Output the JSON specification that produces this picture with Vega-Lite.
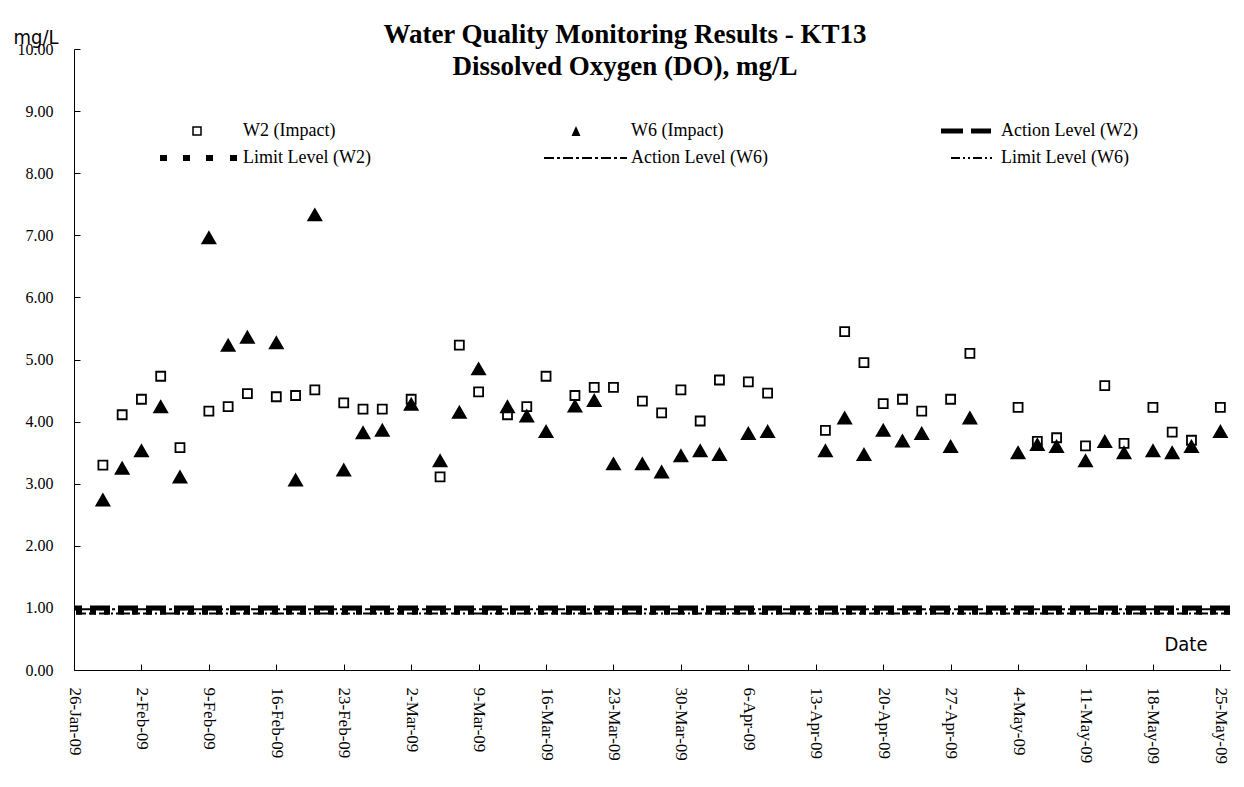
{
  "$schema": "https://vega.github.io/schema/vega-lite/v6.json",
  "width": 1156,
  "height": 621,
  "autosize": {"type": "none"},
  "padding": {"left": 74, "top": 49, "right": 14, "bottom": 117},
  "background": "white",
  "title": {
    "text": ["Water Quality Monitoring Results - KT13", "Dissolved Oxygen (DO), mg/L"],
    "font": "Liberation Serif",
    "fontSize": 27,
    "fontWeight": "bold",
    "color": "black",
    "lineHeight": 32,
    "anchor": "middle",
    "frame": "group",
    "dx": -27,
    "offset": -54
  },
  "config": {
    "view": {"stroke": null},
    "axis": {
      "grid": false,
      "domainColor": "black",
      "tickColor": "black",
      "labelColor": "black",
      "titleColor": "black",
      "labelFont": "Liberation Serif",
      "labelFontSize": 16
    },
    "legend": {
      "title": null,
      "orient": "none",
      "direction": "horizontal",
      "legendX": 146,
      "legendY": 73,
      "columns": 3,
      "columnPadding": 170,
      "rowPadding": 9,
      "padding": 0,
      "labelFont": "Liberation Serif",
      "labelFontSize": 18,
      "labelColor": "black",
      "labelOffset": 5,
      "labelLimit": 300,
      "symbolSize": 256,
      "symbolStrokeWidth": 1.5,
      "symbolOpacity": 1
    }
  },
  "datasets": {
    "levels": [
      {"series": "Action Level (W2)", "level": 1.0},
      {"series": "Limit Level (W2)", "level": 0.93},
      {"series": "Action Level (W6)", "level": 0.98},
      {"series": "Limit Level (W6)", "level": 0.91}
    ],
    "keys": [
      {"series": "W2 (Impact)"},
      {"series": "W6 (Impact)"},
      {"series": "Action Level (W2)"},
      {"series": "Limit Level (W2)"},
      {"series": "Action Level (W6)"},
      {"series": "Limit Level (W6)"}
    ]
  },
  "layer": [
    {
      "data": {"name": "levels"},
      "transform": [{"filter": "datum.series === 'Action Level (W2)'"}],
      "mark": {"type": "rule", "color": "black", "strokeWidth": 5, "strokeDash": [20, 8]},
      "encoding": {"y": {"field": "level", "type": "quantitative", "scale": {"domain": [0, 10]}}}
    },
    {
      "data": {"name": "levels"},
      "transform": [{"filter": "datum.series === 'Limit Level (W2)'"}],
      "mark": {"type": "rule", "color": "black", "strokeWidth": 5, "strokeDash": [6, 8]},
      "encoding": {"y": {"field": "level", "type": "quantitative"}}
    },
    {
      "data": {"name": "levels"},
      "transform": [{"filter": "datum.series === 'Action Level (W6)'"}],
      "mark": {"type": "rule", "color": "black", "strokeWidth": 2, "strokeDash": [10, 3, 3, 3]},
      "encoding": {"y": {"field": "level", "type": "quantitative"}}
    },
    {
      "data": {"name": "levels"},
      "transform": [{"filter": "datum.series === 'Limit Level (W6)'"}],
      "mark": {"type": "rule", "color": "black", "strokeWidth": 2, "strokeDash": [9, 3, 2, 3, 2, 3]},
      "encoding": {"y": {"field": "level", "type": "quantitative"}}
    },
    {
      "data": {"name": "keys"},
      "mark": {"type": "point", "opacity": 0},
      "encoding": {
        "shape": {
          "field": "series",
          "type": "nominal",
          "scale": {
            "domain": ["W2 (Impact)", "W6 (Impact)", "Action Level (W2)", "Limit Level (W2)", "Action Level (W6)", "Limit Level (W6)"],
            "range": [
              "M-4.5,-0.5H-3.5V0.5H-4.5Z",
              "M-5.125,-0.625L-4.5625,0.625H-5.6875Z",
              "M-5.75,-0.3125H-3V0.3125H-5.75Z M-2,-0.3125H0.5V0.3125H-2Z",
              "M-8.625,-0.375H-7.75V0.375H-8.625Z M-5.75,-0.375H-4.875V0.375H-5.75Z M-2.875,-0.375H-2V0.375H-2.875Z M0.125,-0.375H1V0.375H0.125Z",
              "M-9.125,-0.125H-7.875V0.125H-9.125Z M-7.5,-0.125H-7.125V0.125H-7.5Z M-6.75,-0.125H-5.5V0.125H-6.75Z M-5.125,-0.125H-4.75V0.125H-5.125Z M-4.375,-0.125H-3.125V0.125H-4.375Z M-2.75,-0.125H-2.375V0.125H-2.75Z M-2,-0.125H-0.75V0.125H-2Z M-0.375,-0.125H0V0.125H-0.375Z M0.375,-0.125H1.25V0.125H0.375Z",
              "M-4.5,-0.125H-3.375V0.125H-4.5Z M-3,-0.125H-2.75V0.125H-3Z M-2.375,-0.125H-2.125V0.125H-2.375Z M-1.75,-0.125H-0.625V0.125H-1.75Z M-0.25,-0.125H0V0.125H-0.25Z M0.375,-0.125H0.625V0.125H0.375Z"
            ]
          },
          "legend": {"title": null}
        },
        "fill": {
          "field": "series",
          "type": "nominal",
          "scale": {
            "domain": ["W2 (Impact)", "W6 (Impact)", "Action Level (W2)", "Limit Level (W2)", "Action Level (W6)", "Limit Level (W6)"],
            "range": ["white", "black", "black", "black", "black", "black"]
          },
          "legend": {"title": null}
        },
        "stroke": {
          "field": "series",
          "type": "nominal",
          "scale": {
            "domain": ["W2 (Impact)", "W6 (Impact)", "Action Level (W2)", "Limit Level (W2)", "Action Level (W6)", "Limit Level (W6)"],
            "range": ["black", "transparent", "transparent", "transparent", "transparent", "transparent"]
          },
          "legend": {"title": null}
        }
      }
    },
    {
      "data": {
        "values": [
          {"date": "2009/01/29", "series": "W2 (Impact)", "value": 3.30},
          {"date": "2009/01/31", "series": "W2 (Impact)", "value": 4.11},
          {"date": "2009/02/02", "series": "W2 (Impact)", "value": 4.36},
          {"date": "2009/02/04", "series": "W2 (Impact)", "value": 4.73},
          {"date": "2009/02/06", "series": "W2 (Impact)", "value": 3.58},
          {"date": "2009/02/09", "series": "W2 (Impact)", "value": 4.17},
          {"date": "2009/02/11", "series": "W2 (Impact)", "value": 4.24},
          {"date": "2009/02/13", "series": "W2 (Impact)", "value": 4.45},
          {"date": "2009/02/16", "series": "W2 (Impact)", "value": 4.40},
          {"date": "2009/02/18", "series": "W2 (Impact)", "value": 4.42},
          {"date": "2009/02/20", "series": "W2 (Impact)", "value": 4.51},
          {"date": "2009/02/23", "series": "W2 (Impact)", "value": 4.30},
          {"date": "2009/02/25", "series": "W2 (Impact)", "value": 4.20},
          {"date": "2009/02/27", "series": "W2 (Impact)", "value": 4.20},
          {"date": "2009/03/02", "series": "W2 (Impact)", "value": 4.36},
          {"date": "2009/03/05", "series": "W2 (Impact)", "value": 3.11},
          {"date": "2009/03/07", "series": "W2 (Impact)", "value": 5.23},
          {"date": "2009/03/09", "series": "W2 (Impact)", "value": 4.48},
          {"date": "2009/03/12", "series": "W2 (Impact)", "value": 4.11},
          {"date": "2009/03/14", "series": "W2 (Impact)", "value": 4.24},
          {"date": "2009/03/16", "series": "W2 (Impact)", "value": 4.73},
          {"date": "2009/03/19", "series": "W2 (Impact)", "value": 4.42},
          {"date": "2009/03/21", "series": "W2 (Impact)", "value": 4.55},
          {"date": "2009/03/23", "series": "W2 (Impact)", "value": 4.55},
          {"date": "2009/03/26", "series": "W2 (Impact)", "value": 4.33},
          {"date": "2009/03/28", "series": "W2 (Impact)", "value": 4.14},
          {"date": "2009/03/30", "series": "W2 (Impact)", "value": 4.51},
          {"date": "2009/04/01", "series": "W2 (Impact)", "value": 4.01},
          {"date": "2009/04/03", "series": "W2 (Impact)", "value": 4.67},
          {"date": "2009/04/06", "series": "W2 (Impact)", "value": 4.64},
          {"date": "2009/04/08", "series": "W2 (Impact)", "value": 4.46},
          {"date": "2009/04/14", "series": "W2 (Impact)", "value": 3.86},
          {"date": "2009/04/16", "series": "W2 (Impact)", "value": 5.45},
          {"date": "2009/04/18", "series": "W2 (Impact)", "value": 4.95},
          {"date": "2009/04/20", "series": "W2 (Impact)", "value": 4.29},
          {"date": "2009/04/22", "series": "W2 (Impact)", "value": 4.36},
          {"date": "2009/04/24", "series": "W2 (Impact)", "value": 4.17},
          {"date": "2009/04/27", "series": "W2 (Impact)", "value": 4.36},
          {"date": "2009/04/29", "series": "W2 (Impact)", "value": 5.10},
          {"date": "2009/05/04", "series": "W2 (Impact)", "value": 4.23},
          {"date": "2009/05/06", "series": "W2 (Impact)", "value": 3.68},
          {"date": "2009/05/08", "series": "W2 (Impact)", "value": 3.74},
          {"date": "2009/05/11", "series": "W2 (Impact)", "value": 3.61},
          {"date": "2009/05/13", "series": "W2 (Impact)", "value": 4.58},
          {"date": "2009/05/15", "series": "W2 (Impact)", "value": 3.65},
          {"date": "2009/05/18", "series": "W2 (Impact)", "value": 4.23},
          {"date": "2009/05/20", "series": "W2 (Impact)", "value": 3.83},
          {"date": "2009/05/22", "series": "W2 (Impact)", "value": 3.70},
          {"date": "2009/05/25", "series": "W2 (Impact)", "value": 4.23},
          {"date": "2009/01/29", "series": "W6 (Impact)", "value": 2.74},
          {"date": "2009/01/31", "series": "W6 (Impact)", "value": 3.25},
          {"date": "2009/02/02", "series": "W6 (Impact)", "value": 3.53},
          {"date": "2009/02/04", "series": "W6 (Impact)", "value": 4.24},
          {"date": "2009/02/06", "series": "W6 (Impact)", "value": 3.11},
          {"date": "2009/02/09", "series": "W6 (Impact)", "value": 6.96},
          {"date": "2009/02/11", "series": "W6 (Impact)", "value": 5.23},
          {"date": "2009/02/13", "series": "W6 (Impact)", "value": 5.36},
          {"date": "2009/02/16", "series": "W6 (Impact)", "value": 5.27},
          {"date": "2009/02/18", "series": "W6 (Impact)", "value": 3.06},
          {"date": "2009/02/20", "series": "W6 (Impact)", "value": 7.33},
          {"date": "2009/02/23", "series": "W6 (Impact)", "value": 3.22},
          {"date": "2009/02/25", "series": "W6 (Impact)", "value": 3.82},
          {"date": "2009/02/27", "series": "W6 (Impact)", "value": 3.86},
          {"date": "2009/03/02", "series": "W6 (Impact)", "value": 4.28},
          {"date": "2009/03/05", "series": "W6 (Impact)", "value": 3.37},
          {"date": "2009/03/07", "series": "W6 (Impact)", "value": 4.15},
          {"date": "2009/03/09", "series": "W6 (Impact)", "value": 4.85},
          {"date": "2009/03/12", "series": "W6 (Impact)", "value": 4.24},
          {"date": "2009/03/14", "series": "W6 (Impact)", "value": 4.09},
          {"date": "2009/03/16", "series": "W6 (Impact)", "value": 3.84},
          {"date": "2009/03/19", "series": "W6 (Impact)", "value": 4.25},
          {"date": "2009/03/21", "series": "W6 (Impact)", "value": 4.34},
          {"date": "2009/03/23", "series": "W6 (Impact)", "value": 3.32},
          {"date": "2009/03/26", "series": "W6 (Impact)", "value": 3.32},
          {"date": "2009/03/28", "series": "W6 (Impact)", "value": 3.19},
          {"date": "2009/03/30", "series": "W6 (Impact)", "value": 3.45},
          {"date": "2009/04/01", "series": "W6 (Impact)", "value": 3.53},
          {"date": "2009/04/03", "series": "W6 (Impact)", "value": 3.47},
          {"date": "2009/04/06", "series": "W6 (Impact)", "value": 3.81},
          {"date": "2009/04/08", "series": "W6 (Impact)", "value": 3.84},
          {"date": "2009/04/14", "series": "W6 (Impact)", "value": 3.53},
          {"date": "2009/04/16", "series": "W6 (Impact)", "value": 4.06},
          {"date": "2009/04/18", "series": "W6 (Impact)", "value": 3.47},
          {"date": "2009/04/20", "series": "W6 (Impact)", "value": 3.86},
          {"date": "2009/04/22", "series": "W6 (Impact)", "value": 3.69},
          {"date": "2009/04/24", "series": "W6 (Impact)", "value": 3.81},
          {"date": "2009/04/27", "series": "W6 (Impact)", "value": 3.60},
          {"date": "2009/04/29", "series": "W6 (Impact)", "value": 4.06},
          {"date": "2009/05/04", "series": "W6 (Impact)", "value": 3.50},
          {"date": "2009/05/06", "series": "W6 (Impact)", "value": 3.63},
          {"date": "2009/05/08", "series": "W6 (Impact)", "value": 3.60},
          {"date": "2009/05/11", "series": "W6 (Impact)", "value": 3.37},
          {"date": "2009/05/13", "series": "W6 (Impact)", "value": 3.68},
          {"date": "2009/05/15", "series": "W6 (Impact)", "value": 3.50},
          {"date": "2009/05/18", "series": "W6 (Impact)", "value": 3.53},
          {"date": "2009/05/20", "series": "W6 (Impact)", "value": 3.50},
          {"date": "2009/05/22", "series": "W6 (Impact)", "value": 3.60},
          {"date": "2009/05/25", "series": "W6 (Impact)", "value": 3.84}
        ]
      },
      "mark": {"type": "point", "opacity": 1, "strokeWidth": 1.8, "stroke": "black"},
      "encoding": {
        "x": {
          "field": "date",
          "type": "temporal",
          "scale": {"domain": [{"year": 2009, "month": 1, "date": 26}, {"year": 2009, "month": 5, "date": 26}]},
          "axis": {
            "title": "Date",
            "titleFont": "DejaVu Sans Condensed",
            "titleFontSize": 20,
            "titleFontWeight": "normal",
            "titleAngle": 0,
            "titleAlign": "right",
            "titleBaseline": "alphabetic",
            "titleX": 1133,
            "titleY": -20,
            "format": "%-d-%b-%y",
            "labelAngle": 90,
            "labelAlign": "left",
            "labelBaseline": "middle",
            "labelFontSize": 17,
            "tickSize": -6,
            "labelPadding": 23,
            "labelOverlap": false,
            "labelFlush": false,
            "values": [
              {"year": 2009, "month": 1, "date": 26},
              {"year": 2009, "month": 2, "date": 2},
              {"year": 2009, "month": 2, "date": 9},
              {"year": 2009, "month": 2, "date": 16},
              {"year": 2009, "month": 2, "date": 23},
              {"year": 2009, "month": 3, "date": 2},
              {"year": 2009, "month": 3, "date": 9},
              {"year": 2009, "month": 3, "date": 16},
              {"year": 2009, "month": 3, "date": 23},
              {"year": 2009, "month": 3, "date": 30},
              {"year": 2009, "month": 4, "date": 6},
              {"year": 2009, "month": 4, "date": 13},
              {"year": 2009, "month": 4, "date": 20},
              {"year": 2009, "month": 4, "date": 27},
              {"year": 2009, "month": 5, "date": 4},
              {"year": 2009, "month": 5, "date": 11},
              {"year": 2009, "month": 5, "date": 18},
              {"year": 2009, "month": 5, "date": 25}
            ]
          }
        },
        "y": {
          "field": "value",
          "type": "quantitative",
          "scale": {"domain": [0, 10]},
          "axis": {
            "title": "mg/L",
            "titleFont": "DejaVu Sans Condensed",
            "titleFontSize": 20,
            "titleFontWeight": "normal",
            "titleAngle": 0,
            "titleAlign": "left",
            "titleBaseline": "alphabetic",
            "titleX": -61,
            "titleY": -6,
            "values": [0, 1, 2, 3, 4, 5, 6, 7, 8, 9, 10],
            "format": ".2f",
            "tickSize": -6,
            "labelPadding": 27
          }
        },
        "shape": {"condition": {"test": "datum.series === 'W2 (Impact)'", "value": "square"}, "value": "triangle-up"},
        "fill": {"condition": {"test": "datum.series === 'W2 (Impact)'", "value": "white"}, "value": "black"},
        "size": {"condition": {"test": "datum.series === 'W2 (Impact)'", "value": 81}, "value": 169}
      }
    }
  ]
}
